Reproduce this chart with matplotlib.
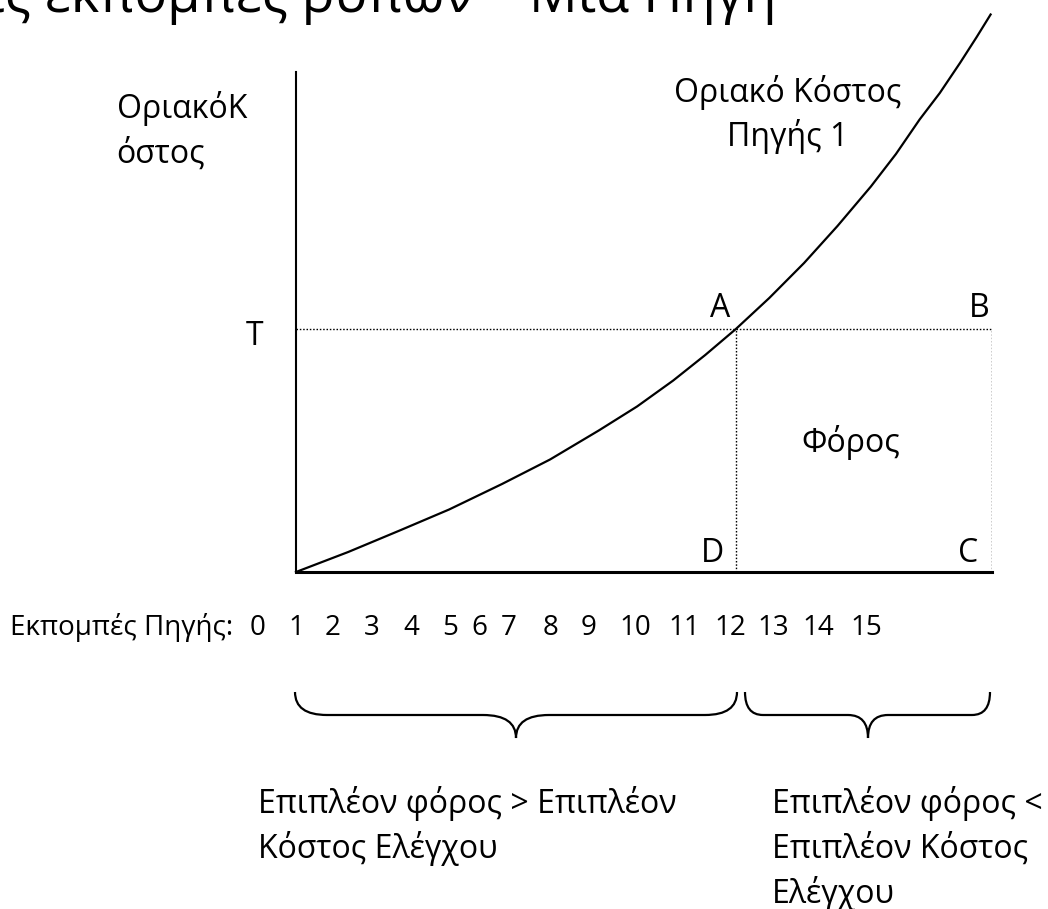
import matplotlib
matplotlib.use("Agg")
import matplotlib.pyplot as plt
from matplotlib.path import Path
from matplotlib.patches import PathPatch

plt.rcParams['font.family'] = ['Open Sans', 'DejaVu Sans']

# καμπύλη οριακού κόστους (άξονας x: 0-100, άξονας y: 0-100 = κορυφή άξονα)
mc_emissions = [0, 7.5, 14.9, 22, 29.6, 36.5, 43.5, 49, 54.2, 58.8, 63.2, 68,
                73.0, 77.8, 82.6, 86.2, 89.6, 92.5, 95.4, 97.8, 99.8]
mc_cost = [0, 4.0, 8.3, 12.5, 17.6, 22.5, 28.3, 33.1, 38.3, 43.4, 48.6, 54.8,
           61.8, 69.2, 77.1, 83.6, 90.5, 95.8, 101.8, 107.0, 111.5]

tax_level = 48.6      # T
q_tax = 63.2          # σημείο A / D
q_max = 100.0         # σημείο B / C
cost_axis_top = 100.0

tick_labels = [str(i) for i in range(16)]
tick_text_x = [258, 296, 333, 372, 411, 450, 479, 509, 551, 589, 635, 684, 730, 773, 818, 866]

title = "Φόροι στις εκπομπές ρύπων – Μια Πηγή"
ylabel_lines = ["ΟριακόΚ", "όστος"]
curve_lines = ["Οριακό Κόστος", "Πηγής 1"]
left_note = ["Επιπλέον φόρος > Επιπλέον", "Κόστος Ελέγχου"]
right_note = ["Επιπλέον φόρος <", "Επιπλέον Κόστος", "Ελέγχου"]

W, H = 1048, 909
FS = 23

fig = plt.figure(figsize=(W / 100, H / 100), dpi=100)

# overlay σε pixel για κείμενα και άγκιστρα
ov = fig.add_axes([0, 0, 1, 1])
ov.set_xlim(0, W)
ov.set_ylim(H, 0)
ov.axis('off')

# κύριο διάγραμμα
ax = fig.add_axes([296 / W, (H - 572) / H, 696 / W, 560 / H])
ax.set_xlim(0, 100)
ax.set_ylim(0, 112)
ax.patch.set_visible(False)
ax.set_xticks([])
ax.set_yticks([])
for s in ['top', 'right']:
    ax.spines[s].set_visible(False)
ax.spines['left'].set_bounds(0, cost_axis_top)
ax.spines['left'].set_linewidth(1.5)
ax.spines['bottom'].set_linewidth(2.2)

ax.plot(mc_emissions, mc_cost, color='black', lw=1.6, clip_on=False,
        solid_joinstyle='round')
dots = (0, (1.1, 1.3))
ax.hlines(tax_level, 0, q_max, colors='black', lw=1.0, linestyles=dots)
ax.vlines([q_tax, q_max], 0, tax_level, colors='black', lw=1.0, linestyles=dots)

# τίτλος (κομμένος στο πάνω μέρος όπως στο πρωτότυπο)
ov.text(777, 12, title, ha='right', va='baseline', fontsize=39)

fig.canvas.draw()
renderer = fig.canvas.get_renderer()


def block(lines, x_right, baselines, size=FS):
    # πρώτη γραμμή δεξιά στοιχισμένη, οι υπόλοιπες αριστερά στο ίδιο x
    t = ov.text(x_right, baselines[0], lines[0], ha='right', va='baseline', fontsize=size)
    bb = t.get_window_extent(renderer)
    x_left = ov.transData.inverted().transform((bb.x0, bb.y0))[0]
    for line, yb in zip(lines[1:], baselines[1:]):
        ov.text(x_left, yb, line, ha='left', va='baseline', fontsize=size)


block(ylabel_lines, 247, [118, 163])
for line, yb in zip(curve_lines, [102, 146]):
    ov.text(788, yb, line, ha='center', va='baseline', fontsize=FS)

for lab, x, yb in [("T", 255, 345), ("A", 720, 317), ("B", 979, 317),
                   ("D", 712, 562), ("C", 968, 562), ("Φόρος", 851, 452)]:
    ov.text(x, yb, lab, ha='center', va='baseline', fontsize=FS)

ov.text(10, 635, "Εκπομπές Πηγής:", ha='left', va='baseline', fontsize=20)
for lab, x in zip(tick_labels, tick_text_x):
    ov.text(x, 635, lab, ha='center', va='baseline', fontsize=20)


def brace(x0, x1, xm, r_end, r_tip, ytop=692, ymid=715, ytip=738):
    verts = [(x0, ytop), (x0, ymid), (x0 + r_end, ymid),
             (xm - r_tip, ymid),
             (xm, ymid), (xm, ytip),
             (xm, ymid), (xm + r_tip, ymid),
             (x1 - r_end, ymid),
             (x1, ymid), (x1, ytop)]
    codes = [Path.MOVETO, Path.CURVE3, Path.CURVE3,
             Path.LINETO,
             Path.CURVE3, Path.CURVE3,
             Path.CURVE3, Path.CURVE3,
             Path.LINETO,
             Path.CURVE3, Path.CURVE3]
    ov.add_patch(PathPatch(Path(verts, codes), fill=False, lw=1.6, edgecolor='black'))


brace(295, 737, 516, 32, 33)
brace(745, 990, 868, 18, 20)

block(left_note, 677, [813, 858])
for line, yb in zip(right_note, [813, 858, 903]):
    ov.text(772, yb, line, ha='left', va='baseline', fontsize=FS)

fig.savefig('out.png', dpi=100)
